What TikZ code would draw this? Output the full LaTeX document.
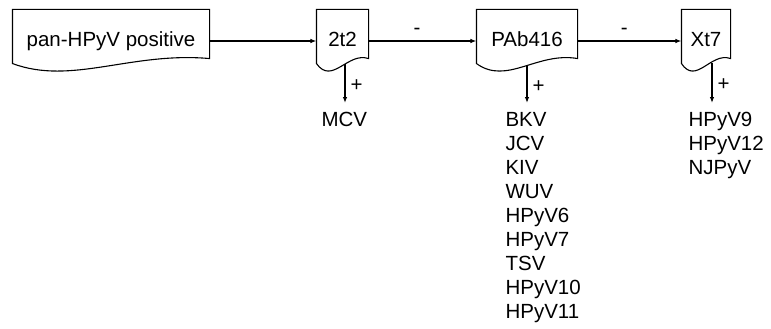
\documentclass[tikz,border=0pt]{standalone}
\usepackage{fontspec}
\setmainfont{Liberation Sans}
\usetikzlibrary{arrows.meta,calc}
\tikzset{
  docbox/.style={inner sep=0pt, minimum height=62pt, text height=14.6pt, text depth=4pt, font=\fontsize{20.5}{24}\selectfont},
  vlist/.style={inner sep=0pt, align=left, anchor=north west, font=\fontsize{20.5}{24.1}\selectfont},
  arr/.style={-{Latex[length=6pt,width=4.5pt]}},
  sign/.style={inner sep=0pt, font=\fontsize{20.5}{24}\selectfont},
}
\newcommand\docoutline[1]{%
  \draw (#1.north west) -- (#1.north east) -- ($(#1.south east)+(0,14)$)
    .. controls ($(#1.south west)!0.6!(#1.south east)+(0,21)$) and ($(#1.south west)!0.3!(#1.south east)+(0,-13)$)
    .. ($(#1.south west)+(0,9)$) -- cycle;}
\begin{document}
\begin{tikzpicture}[x=1pt,y=1pt,line width=1.1pt]
\useasboundingbox (0,0) rectangle (771,-329);
\node[docbox, minimum width=196pt] (pan) at (111,-41) {pan-HPyV positive};
\node[docbox, minimum width=51pt] (t2) at (342.5,-41) {2t2};
\node[docbox, minimum width=100pt] (pab) at (527,-41) {PAb416};
\node[docbox, minimum width=48pt] (xt) at (706,-41) {Xt7};
\docoutline{pan}
\docoutline{t2}
\docoutline{pab}
\docoutline{xt}
\node[vlist] (lmcv) at (321,-111.5) {MCV};
\node[vlist] (lpab) at (505,-111.5) {BKV\\JCV\\KIV\\WUV\\HPyV6\\HPyV7\\TSV\\HPyV10\\HPyV11};
\node[vlist] (lxt) at (688,-111.5) {HPyV9\\HPyV12\\NJPyV};
\draw[arr] (pan) -- (t2);
\draw[arr] (t2) -- node[sign, pos=0.45, above=5.5pt] {-} (pab);
\draw[arr] (pab) -- node[sign, pos=0.45, above=5.5pt] {-} (xt);
\draw[arr, shorten >=8.5pt] ([xshift=2.5pt,yshift=8.6pt]t2.south) coordinate (a1) -- node[sign, pos=0.45, right=5pt] {+} (a1 |- lmcv.north);
\draw[arr, shorten >=8.5pt] ([yshift=7.2pt]pab.south) coordinate (a2) -- node[sign, pos=0.45, right=5pt] {+} (a2 |- lpab.north);
\draw[arr, shorten >=8.5pt] ([xshift=6pt,yshift=9.7pt]xt.south) coordinate (a3) -- node[sign, pos=0.45, right=5pt] {+} (a3 |- lxt.north);
\end{tikzpicture}
\end{document}
